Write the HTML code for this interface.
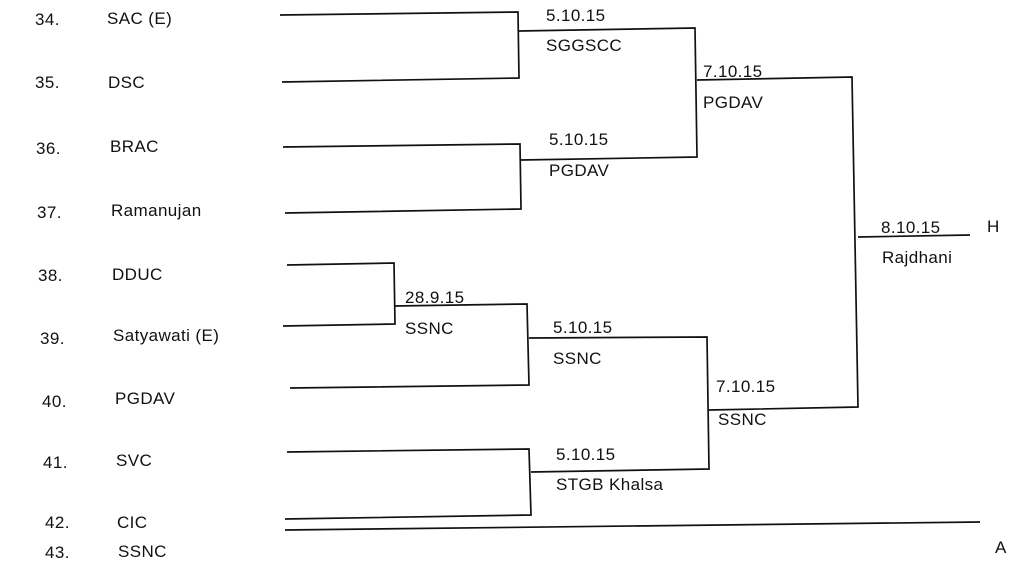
<!DOCTYPE html>
<html><head><meta charset="utf-8"><style>
html,body{margin:0;padding:0;background:#fff;}
svg{display:block;}
text{font-family:"Liberation Sans",sans-serif;font-size:17px;fill:#111;letter-spacing:0.4px;}
</style></head><body>
<svg width="1024" height="580" viewBox="0 0 1024 580" xmlns="http://www.w3.org/2000/svg">
<g stroke="#111" stroke-width="1.7" fill="none">
<polyline points="280,15 518,12 519,78 282,82"/>
<polyline points="519,31 695,28 697,157 521,160"/>
<polyline points="283,147 520,144 521,209 285,213"/>
<polyline points="697,80 852,77 858,407 709,410"/>
<line x1="858" y1="237" x2="970" y2="235"/>
<polyline points="287,265 394,263 395,324 283,326"/>
<polyline points="394,306 527,304 529,385 290,388"/>
<polyline points="529,338 707,337 709,469 531,472"/>
<polyline points="287,452 529,449 531,515 285,519"/>
<line x1="285" y1="530" x2="980" y2="522"/>
</g>
<g>
<text x="35" y="25">34.</text><text x="107" y="24">SAC (E)</text>
<text x="35" y="88">35.</text><text x="108" y="88">DSC</text>
<text x="36" y="154">36.</text><text x="110" y="152">BRAC</text>
<text x="37" y="218">37.</text><text x="111" y="216">Ramanujan</text>
<text x="38" y="281">38.</text><text x="112" y="280">DDUC</text>
<text x="40" y="344">39.</text><text x="113" y="341">Satyawati (E)</text>
<text x="42" y="407">40.</text><text x="115" y="404">PGDAV</text>
<text x="43" y="468">41.</text><text x="116" y="466">SVC</text>
<text x="45" y="528">42.</text><text x="117" y="528">CIC</text>
<text x="45" y="558">43.</text><text x="118" y="557">SSNC</text>

<text x="546" y="21">5.10.15</text><text x="546" y="51">SGGSCC</text>
<text x="703" y="77">7.10.15</text><text x="703" y="108">PGDAV</text>
<text x="549" y="145">5.10.15</text><text x="549" y="176">PGDAV</text>
<text x="881" y="233">8.10.15</text><text x="987" y="232">H</text>
<text x="882" y="263">Rajdhani</text>
<text x="405" y="303">28.9.15</text><text x="405" y="334">SSNC</text>
<text x="553" y="333">5.10.15</text><text x="553" y="364">SSNC</text>
<text x="716" y="392">7.10.15</text><text x="718" y="425">SSNC</text>
<text x="556" y="460">5.10.15</text><text x="556" y="490">STGB Khalsa</text>
<text x="995" y="553">A</text>
</g>
</svg>
</body></html>
